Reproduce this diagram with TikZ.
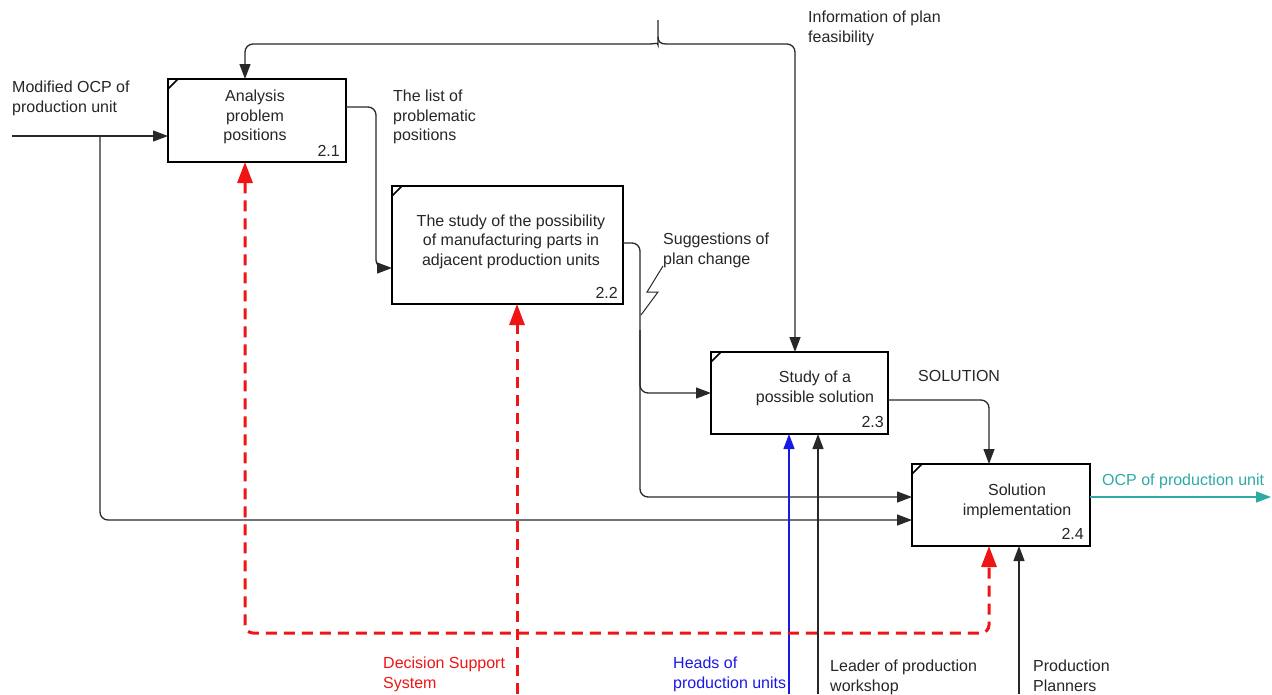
\documentclass[tikz,border=0pt]{standalone}
\usepackage{fontspec}
\setmainfont{Liberation Sans}
\usetikzlibrary{arrows.meta}
\definecolor{lineGray}{RGB}{40,40,40}
\definecolor{dssRed}{RGB}{240,20,20}
\definecolor{headBlue}{RGB}{25,25,230}
\definecolor{outTeal}{RGB}{45,170,165}
\tikzset{
  txt/.style={font=\fontsize{16}{19.5}\selectfont, text=black!85},
  procbox/.style={draw=black, line width=2.4pt, fill=white, inner sep=0pt, outer sep=0pt},
  boxtext/.style={txt, align=center, inner sep=0pt},
  boxnum/.style={txt, inner sep=0pt, anchor=base east},
  lbl/.style={txt, align=left, anchor=north west, inner sep=0pt},
  plain/.style={draw=lineGray, line width=1.3pt, rounded corners=8pt},
  flow/.style={plain, -{Triangle[length=15pt,width=11pt]}},
  dss/.style={draw=dssRed, line width=3pt, dash pattern=on 11pt off 7pt, rounded corners=8pt},
  dsstip/.style={-{Triangle[length=21pt,width=15pt]}},
  tick/.style={draw=black, line width=1.6pt}
}
\begin{document}
\begin{tikzpicture}[x=1pt,y=-1pt]
\useasboundingbox (0,0) rectangle (1272,694);

% activity boxes
\node[procbox, minimum width=178pt, minimum height=83pt]  (b1) at (257,120.5) {};
\node[procbox, minimum width=231pt, minimum height=118pt] (b2) at (507.5,245) {};
\node[procbox, minimum width=177pt, minimum height=82pt]  (b3) at (799.5,393) {};
\node[procbox, minimum width=178pt, minimum height=82pt]  (b4) at (1001,505) {};

\foreach \b in {b1,b2,b3,b4}
  \draw[tick] ([yshift=-10pt]\b.north west) -- ([xshift=10pt]\b.north west);

\node[boxtext] (t1) at (255,117) {Analysis\\problem\\positions};
\node[boxtext] (t2) at (511,241.5) {The study of the possibility\\of manufacturing parts in\\adjacent production units};
\node[boxtext] (t3) at (815,388.5) {Study of a\\possible solution};
\node[boxtext] (t4) at (1017,501.5) {Solution\\implementation};

\node[boxnum] (n1) at (340,156) {2.1};
\node[boxnum] (n2) at (618,298) {2.2};
\node[boxnum] (n3) at (884,427) {2.3};
\node[boxnum] (n4) at (1084,539) {2.4};

% input and its branch to 2.4
\coordinate (inL) at (12,136);
\draw[flow] (inL) -- (inL -| b1.west);
\coordinate (brA) at (100,136);
\coordinate (brB) at (100,520);
\draw[flow] (brA) -- (brB) -- (brB -| b4.west);

% 2.1 -> 2.2
\coordinate (c12a) at (376,107);
\coordinate (c12b) at (376,268);
\draw[flow] (c12a -| b1.east) -- (c12a) -- (c12b) -- (c12b -| b2.west);

% 2.2 -> 2.3 and 2.4
\coordinate (c23a) at (640,243);
\coordinate (c23b) at (640,393);
\draw[flow] (c23a -| b2.east) -- (c23a) -- (c23b) -- (c23b -| b3.west);
\coordinate (c24a) at (640,330);
\coordinate (c24b) at (640,497);
\draw[flow] (c24a) -- (c24b) -- (c24b -| b4.west);

% squiggle to the label
\coordinate (sqA) at (641,315);
\coordinate (sqB) at (663,266);
\draw[draw=lineGray, line width=1pt] (sqA) -- (658,292) -- (647,292) -- (sqB);

% 2.3 -> 2.4
\coordinate (c34) at (989,400);
\draw[flow] (c34 -| b3.east) -- (c34) -- (c34 |- b4.north);

% output
\coordinate (outR) at (1271,497);
\draw[flow, draw=outTeal] (outR -| b4.east) -- (outR);

% feedback from above
\coordinate (fbTop) at (658,20);
\coordinate (fbL) at (245,44);
\coordinate (fbR) at (795,44);
\draw[plain] (fbTop) -- (658,37) .. controls (658,42) and (655,44) .. (650,44);
\draw[plain] (658,37) .. controls (658,42) and (661,44) .. (666,44);
\draw[flow] (650,44) -- (fbL) -- (fbL |- b1.north);
\draw[flow] (666,44) -- (fbR) -- (fbR |- b3.north);

% mechanisms
\coordinate (hb) at (789,694);
\draw[flow, draw=headBlue] (hb) -- (hb |- b3.south);
\coordinate (lw) at (818,694);
\draw[flow] (lw) -- (lw |- b3.south);
\coordinate (pp) at (1019,694);
\draw[flow] (pp) -- (pp |- b4.south);

% decision support system
\coordinate (ds) at (517,694);
\draw[dss, dsstip] (ds) -- (ds |- b2.south);
\coordinate (dl) at (245,633);
\coordinate (dr) at (989,633);
\draw[dss, {Triangle[length=21pt,width=15pt]}-{Triangle[length=21pt,width=15pt]}]
  (dl |- b1.south) -- (dl) -- (dr) -- (dr |- b4.south);

% labels
\node[lbl] (l1) at (12,81) {Modified OCP of\\production unit};
\node[lbl] (l2) at (393,90) {The list of\\problematic\\positions};
\node[lbl] (l3) at (808,11) {Information of plan\\feasibility};
\node[lbl] (l4) at (663,233) {Suggestions of\\plan change};
\node[lbl] (l5) at (918,370) {SOLUTION};
\node[lbl, text=outTeal] (l6) at (1102,474) {OCP of production unit};
\node[lbl, text=dssRed] (l7) at (383,657) {Decision Support\\System};
\node[lbl, text=headBlue] (l8) at (673,657) {Heads of\\production units};
\node[lbl] (l9) at (830,660) {Leader of production\\workshop};
\node[lbl] (l10) at (1033,660) {Production\\Planners};
\end{tikzpicture}
\end{document}
